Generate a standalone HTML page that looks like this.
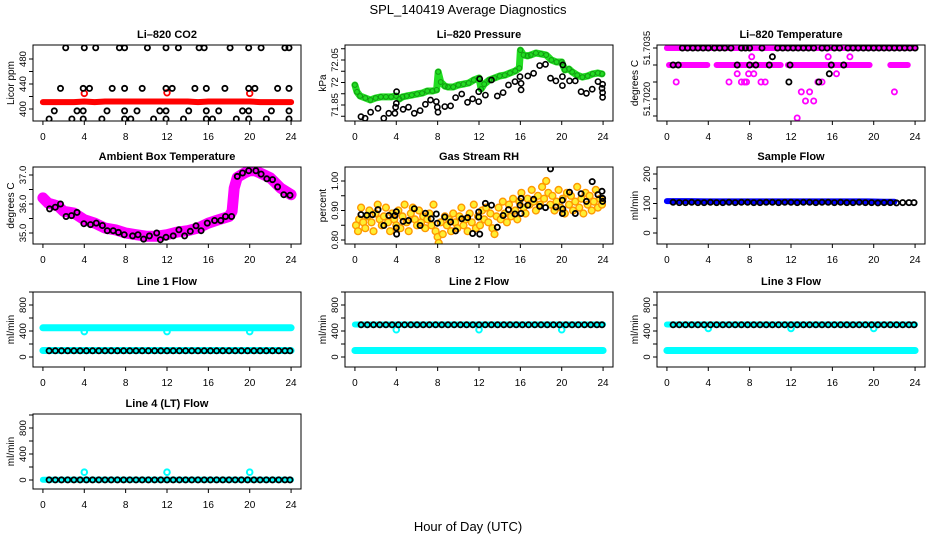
<!DOCTYPE html>
<html><head><meta charset="utf-8"><title>SPL_140419 Average Diagnostics</title>
<style>
html,body{margin:0;padding:0;background:#fff;}
svg{display:block;font-family:"Liberation Sans",Arial,sans-serif;}
</style></head>
<body>
<svg id="chart" width="936" height="540" viewBox="0 0 936 540" xmlns="http://www.w3.org/2000/svg">
<rect x="0" y="0" width="936" height="540" fill="#fff"/>
<text x="468" y="14" text-anchor="middle" font-size="13">SPL_140419  Average Diagnostics</text>
<text x="468" y="531" text-anchor="middle" font-size="13">Hour of Day (UTC)</text>
</svg>
<script>
// ---------- data ----------
const xTicks = [0,4,8,12,16,20,24];

const co2RedH = [0,1,2,3,4,5,6,7,8,9,10,11,12,13,14,15,16,17,18,19,20,21,22,23,24];
const co2RedV = [411,411,411,411,412,411,412,412,412,412,412,412,412,412,412,411,412,412,412,412,412,411,411,411,411];
const co2OutH = [4,12,20];
const co2OutV = [425,426,425];
const co2BlackH = [2.2,4.0,5.1,7.4,7.9,10.1,11.9,13.1,15.1,15.6,18.1,19.9,21.1,23.4,23.8,
  1.7,3.9,4.5,6.7,7.9,9.6,11.9,12.5,14.7,15.8,17.6,19.9,20.5,22.7,23.8,
  1.1,3.3,3.9,6.2,7.9,9.1,11.3,11.9,14.1,15.8,17.0,19.3,19.9,22.1,23.8,
  0.6,2.8,3.9,5.7,7.9,8.5,10.7,11.9,13.6,15.8,16.4,18.7,19.9,21.6,23.8];
const co2BlackV = [498,498,498,498,498,498,498,498,498,498,498,498,498,498,498,
  433,433,433,433,433,433,433,433,433,433,433,433,433,433,433,
  397,397,397,397,397,397,397,397,397,397,397,397,397,397,397,
  384,384,384,384,384,384,384,384,384,384,384,384,384,384,384];

const presGreenH = [0,0.2,0.5,1,1.5,2,2.5,3,3.5,4,4.3,4.6,5,5.5,6,6.5,7,7.5,7.9,8.05,8.3,8.7,9,9.5,10,10.5,11,11.5,12,12.2,12.5,13,13.5,14,14.5,15,15.5,15.9,16.0,16.3,16.7,17,17.5,18,18.5,19,19.5,20,20.3,20.7,21,21.5,22,22.5,23,23.5,23.9];
const presGreenV = [71.939,71.908,71.89,71.881,71.872,71.881,71.886,71.886,71.886,71.89,71.877,71.886,71.89,71.894,71.899,71.903,71.912,71.912,71.917,71.997,71.952,71.934,71.93,71.93,71.939,71.943,71.948,71.961,71.97,71.921,71.943,71.961,71.97,71.979,71.983,71.992,72.001,72.014,72.094,72.072,72.068,72.072,72.081,72.077,72.072,72.05,72.041,72.041,72.006,72.01,71.997,71.983,71.974,71.979,71.988,71.992,71.988];
const presBlackH = [0.59,0.98,1.52,2.23,2.79,3.28,3.87,3.93,4.0,4.03,4.66,5.18,5.74,6.3,6.82,7.31,7.87,7.97,8.03,8.69,9.25,9.74,10.33,10.89,11.38,11.97,11.97,12.07,12.62,13.21,13.77,14.33,14.85,15.48,15.97,16.07,16.07,16.72,17.28,17.87,18.43,18.92,19.44,20.07,20.07,20.1,20.75,21.31,21.87,22.39,22.95,23.51,23.95,23.9,23.95,23.95];
const presBlackV = [71.798,71.791,71.818,71.835,71.791,71.813,71.813,71.84,71.857,71.909,71.831,71.84,71.813,71.825,71.853,71.872,71.865,71.84,71.818,71.843,71.846,71.883,71.899,71.862,71.877,71.865,71.909,71.966,71.894,71.961,71.89,71.905,71.939,71.954,71.976,71.946,71.917,71.979,71.991,72.025,72.031,71.969,71.957,71.976,71.936,72.028,71.957,71.957,71.909,71.902,71.92,71.954,71.942,71.924,71.905,71.884];

const tempMagTopH = [0,2,4,6,8,10,12,14,16,18,20,22,24];
const tempMagTopV = [51.7035,51.7035,51.7035,51.7035,51.7035,51.7035,51.7035,51.7035,51.7035,51.7035,51.7035,51.7035,51.7035];
const tempMagMidH = [0.2,1,2,3,3.9,4.2,4.8,6,7,8,9,10,11,11.3,11.7,13,14,15,16,17,18,19,19.6,20.5,21.6,22.5,23.3];
const tempMagMidV = [51.7030,51.7030,51.7030,51.7030,51.7030,null,51.7030,51.7030,51.7030,51.7030,51.7030,51.7030,51.7030,null,51.7030,51.7030,51.7030,51.7030,51.7030,51.7030,51.7030,51.7030,51.7030,null,51.7030,51.7030,51.7030];
const tempMagPtH = [8.2,15.6,17.7,6.8,7.9,8.4,16.4,0.9,6.0,7.2,7.5,7.7,9.1,9.5,14.6,15.0,13.0,13.8,22.0,13.4,14.2,12.6];
const tempMagPtV = [51.70324,51.70324,51.70324,51.70274,51.70274,51.70274,51.70274,51.7025,51.7025,51.7025,51.7025,51.7025,51.7025,51.7025,51.7025,51.7025,51.70221,51.70221,51.70221,51.70194,51.70194,51.70144];
const tempBlackH = [1.5,2.0,2.5,3.0,3.5,4.0,4.6,5.1,5.6,6.2,7.2,7.6,8.0,9.2,10.7,11.2,11.7,12.2,12.7,13.2,13.7,14.2,15.0,15.5,16.2,16.7,17.5,18.0,18.5,19.0,19.5,20.0,20.5,21.0,21.5,22.0,22.5,23.0,23.5,24.0,
  10.2,0.6,1.1,6.8,8.0,8.6,9.9,11.9,15.9,17.1,15.7,11.8,14.7];
const tempBlackV = [51.7035,51.7035,51.7035,51.7035,51.7035,51.7035,51.7035,51.7035,51.7035,51.7035,51.7035,51.7035,51.7035,51.7035,51.7035,51.7035,51.7035,51.7035,51.7035,51.7035,51.7035,51.7035,51.7035,51.7035,51.7035,51.7035,51.7035,51.7035,51.7035,51.7035,51.7035,51.7035,51.7035,51.7035,51.7035,51.7035,51.7035,51.7035,51.7035,51.7035,
  51.70324,51.7030,51.7030,51.7030,51.7030,51.7030,51.7030,51.7030,51.7030,51.7030,51.70274,51.7025,51.7025];

const ambMagH = [0,0.5,1,1.5,2,3,4,5,6,7,8,9,10,11,12,13,14,15,16,17,18,18.3,18.5,18.8,19.5,20,20.5,21,22,23,24];
const ambMagV = [36.21,36.03,35.98,35.92,35.75,35.69,35.46,35.34,35.17,35.11,35.0,34.94,34.89,34.89,34.94,35.03,35.08,35.17,35.34,35.46,35.57,35.75,36.55,36.92,37.07,37.15,37.15,37.07,36.9,36.55,36.32];
const ambBlackH = [0.65,1.2,1.7,2.24,2.76,3.3,3.96,4.6,5.16,5.75,6.23,6.8,7.3,7.86,8.67,9.2,9.74,10.3,11.0,11.36,11.9,12.6,13.15,13.7,14.25,14.8,15.3,15.9,16.6,17.2,17.66,18.25,18.8,19.3,19.9,20.6,21.1,21.65,22.2,22.7,23.3,23.9];
const ambBlackV = [35.83,35.89,36.0,35.57,35.6,35.71,35.32,35.29,35.34,35.26,35.08,35.08,35.02,34.94,34.9,34.94,34.79,34.9,35.0,34.77,34.85,34.9,35.11,34.9,35.06,35.25,35.08,35.34,35.43,35.43,35.57,35.57,36.95,37.07,37.15,37.15,37.03,36.87,36.84,36.59,36.32,36.3];

const rhOrangeH = [0.1,0.3,0.4,0.6,0.8,1.0,1.2,1.4,1.6,1.8,2.0,2.2,2.4,2.6,2.8,3.0,3.2,3.4,3.6,3.8,4.0,4.2,4.4,4.6,4.8,5.0,5.2,5.4,5.6,5.8,6.0,6.2,6.4,6.6,6.8,7.0,7.2,7.4,7.6,7.8,8.0,8.1,8.3,8.5,8.7,8.9,9.1,9.3,9.5,9.7,9.9,10.1,10.3,10.5,10.7,10.9,11.1,11.3,11.5,11.7,11.9,12.1,12.3,12.5,12.7,12.9,13.1,13.3,13.5,13.7,13.9,14.1,14.3,14.5,14.7,14.9,15.1,15.3,15.5,15.7,15.9,16.1,16.3,16.5,16.7,16.9,17.1,17.3,17.5,17.7,17.9,18.1,18.3,18.5,18.7,18.9,19.1,19.3,19.5,19.7,19.9,20.1,20.3,20.5,20.7,20.9,21.1,21.3,21.5,21.7,21.9,22.1,22.3,22.5,22.7,22.9,23.1,23.3,23.5,23.7,23.9];
const rhOrangeV = [0.85,0.83,0.87,0.91,0.86,0.84,0.88,0.90,0.86,0.83,0.89,0.92,0.87,0.85,0.88,0.91,0.86,0.83,0.89,0.87,0.85,0.90,0.84,0.88,0.92,0.86,0.83,0.89,0.91,0.87,0.85,0.90,0.86,0.88,0.84,0.87,0.89,0.85,0.92,0.83,0.81,0.79,0.86,0.82,0.88,0.85,0.87,0.83,0.89,0.86,0.84,0.88,0.91,0.85,0.87,0.83,0.89,0.86,0.92,0.84,0.88,0.85,0.90,0.87,0.91,0.86,0.89,0.84,0.82,0.88,0.91,0.87,0.93,0.89,0.86,0.92,0.88,0.94,0.90,0.87,0.93,0.96,0.91,0.89,0.94,0.92,0.97,0.93,0.90,0.95,0.92,0.98,0.94,1.00,0.96,0.92,0.95,0.90,0.93,0.97,0.91,0.94,0.89,0.96,0.92,0.95,0.90,0.93,0.98,0.91,0.94,0.89,0.96,0.92,0.95,0.90,0.93,0.97,0.91,0.94,0.92];
const rhBlackH = [0.59,1.15,1.7,2.23,2.79,3.28,3.87,4.0,4.0,4.03,4.66,5.18,5.74,6.3,6.82,7.38,7.87,7.97,8.69,9.25,9.74,10.33,10.9,11.38,11.97,11.97,12.07,12.62,13.21,13.77,14.33,14.85,15.48,15.97,16.07,16.07,16.72,17.28,17.87,18.43,18.92,19.44,20.07,20.07,20.1,20.75,21.31,21.87,22.39,22.95,23.51,23.95,23.9,23.95];
const rhBlackV = [0.886,0.884,0.886,0.903,0.849,0.883,0.883,0.896,0.841,0.82,0.863,0.866,0.906,0.849,0.891,0.872,0.888,0.857,0.878,0.861,0.831,0.872,0.876,0.822,0.895,0.878,0.82,0.924,0.918,0.843,0.883,0.903,0.888,0.918,0.941,0.89,0.918,0.938,0.914,0.91,1.041,0.912,0.935,0.89,0.905,0.962,0.89,0.957,0.931,0.998,0.954,0.931,0.965,0.941];

const flowH = [0.6,1.2,1.8,2.4,3.0,3.6,4.2,4.8,5.4,6.0,6.6,7.2,7.8,8.4,9.0,9.6,10.2,10.8,11.4,12.0,12.6,13.2,13.8,14.4,15.0,15.6,16.2,16.8,17.4,18.0,18.6,19.2,19.8,20.4,21.0,21.6,22.2,22.8,23.4,23.9];
const sampleBlackV = [104,103,103,104,103,103,104,103,103,104,103,104,104,103,103,104,104,103,104,104,103,104,104,103,104,104,103,104,103,103,104,103,103,102,103,103,102,103,103,103];
const sampleBlueH = [0,2,4,6,8,10,12,14,16,18,19.4,21,22];
const sampleBlueV = [108,108,107,107,107,107,107,107,107,107,107,106,106];
const line1CyanHighH = [0,4,8,12,16,20,24];
const line1CyanHighV = [450,450,450,450,450,450,450];
const line1CyanLowH = [0,4,8,12,16,20,24];
const line1CyanLowV = [100,100,100,100,100,100,100];
const line1OutV = [390,390,390];
const line1BlackV = [95,95,95,95,95,95,95,95,95,95,95,95,95,95,95,95,95,95,95,95,95,95,95,95,95,95,95,95,95,95,95,95,95,95,95,95,95,95,95,95];
const line2CyanHighH = [0,4,8,12,16,20,24];
const line2CyanHighV = [500,500,500,500,500,500,500];
const line2CyanLowH = [0,4,8,12,16,20,24];
const line2CyanLowV = [100,100,100,100,100,100,100];
const line2OutV = [420,420,420];
const line2BlackV = [495,495,495,495,495,495,495,495,495,495,495,495,495,495,495,495,495,495,495,495,495,495,495,495,495,495,495,495,495,495,495,495,495,495,495,495,495,495,495,495];
const line3CyanHighV = [500,500,500,500,500,500,500];
const line3CyanLowV = [100,100,100,100,100,100,100];
const line3OutV = [440,440,440];
const line3BlackV = [495,495,495,495,495,495,495,495,495,495,495,495,495,495,495,495,495,495,495,495,495,495,495,495,495,495,495,495,495,495,495,495,495,495,495,495,495,495,495,495];
const line4CyanH = [0,4,8,12,16,20,24];
const line4CyanV = [3,3,3,3,3,3,3];
const line4OutV = [120,120,120];
const line4BlackV = [2,2,2,2,2,2,2,2,2,2,2,2,2,2,2,2,2,2,2,2,2,2,2,2,2,2,2,2,2,2,2,2,2,2,2,2,2,2,2,2];
const outH = [4,12,20];

// ---------- rendering ----------
const NS = 'http://www.w3.org/2000/svg';
const svg = document.getElementById('chart');
function mk(tag, attrs, parent){
  const e = document.createElementNS(NS, tag);
  for (const k in attrs) e.setAttribute(k, attrs[k]);
  (parent || svg).appendChild(e);
  return e;
}
let clipN = 0;
function makePanel(p){
  const W = 268, H = p.h;
  const g = mk('g', {});
  
  
  const sx = h => p.x + (h + 0.96) * W / 25.92;
  const sy = v => p.py0 + (v - p.v0) * (p.py1 - p.py0) / (p.v1 - p.v0);
  const cid = 'clip' + (clipN++);
  const cp = mk('clipPath', {id: cid}, g);
  mk('rect', {x: p.x, y: p.y, width: W, height: H}, cp);
  const title = mk('text', {x: p.x + W/2, y: p.y - 7, 'text-anchor': 'middle', 'font-size': 11, 'font-weight': 'bold'}, g);
  title.textContent = p.title;
  
  
  const plot = mk('g', {'clip-path': 'url(#' + cid + ')'}, g);
  
  
  const box = mk('rect', {x: p.x, y: p.y, width: W, height: H, fill: 'none', stroke: '#000', 'stroke-width': 1}, g);
  
  
  const xb = p.y + H;
  const xa = mk('line', {x1: sx(0), x2: sx(24), y1: xb, y2: xb, stroke: '#000'}, g);
  
  
  xTicks.forEach(t => {
    const tk = mk('line', {x1: sx(t), x2: sx(t), y1: xb, y2: xb + 4, stroke: '#000'}, g);
    
    
    const tl = mk('text', {x: sx(t), y: xb + 19, 'text-anchor': 'middle', 'font-size': 10}, g);
    tl.textContent = t;
    
    
  });
  const ya = mk('line', {x1: p.x, x2: p.x, y1: sy(p.ticks[0]), y2: sy(p.ticks[p.ticks.length-1]), stroke: '#000'}, g);
  
  
  p.ticks.forEach(t => {
    const tk = mk('line', {x1: p.x - 4, x2: p.x, y1: sy(t), y2: sy(t), stroke: '#000'}, g);
    
    
  });
  p.labVals.forEach((t, i) => {
    const lx = p.x - 7, ly = sy(t);
    const tl = mk('text', {x: lx, y: ly, 'text-anchor': 'middle', 'font-size': 9.5, transform: 'rotate(-90 ' + lx + ' ' + ly + ')'}, g);
    tl.textContent = p.labText[i];
    
    
  });
  const ax = p.x - 19, ay = p.y + H/2;
  const yt = mk('text', {x: ax, y: ay, 'text-anchor': 'middle', 'font-size': 10, transform: 'rotate(-90 ' + ax + ' ' + ay + ')'}, g);
  yt.textContent = p.ylab;
  
  
  return {plot, sx, sy};
}
function band(P, hs, vs, color, w, name){
  let pts = [];
  const flush = () => {
    if (pts.length){
      const pl = mk('polyline', {points: pts.join(' '), fill: 'none', stroke: color, 'stroke-width': w, 'stroke-linecap': 'round', 'stroke-linejoin': 'round'}, P.plot);
      
      
    }
    pts = [];
  };
  hs.forEach((h, i) => {
    if (vs[i] === null) { flush(); return; }
    pts.push(P.sx(h).toFixed(1) + ',' + P.sy(vs[i]).toFixed(1));
  });
  flush();
}
function dots(P, hs, vs, color, r, sw, fill, name){
  hs.forEach((h, i) => {
    if (vs[i] === null) return;
    const c = mk('circle', {cx: P.sx(h).toFixed(1), cy: P.sy(vs[i]).toFixed(1), r: r, fill: fill || 'none', stroke: color, 'stroke-width': sw}, P.plot);
    
    
  });
}
const C1 = 33, C2 = 345, C3 = 657;
const R = [45, 167, 292, 414];
const flowTicks = [0,200,400,600,800,1000];

const p1 = makePanel({name:'panel-li820-co2', title:'Li\u2013820 CO2', ylab:'Licor ppm', x:C1, y:R[0], h:76, v0:400, v1:480, py0:109, py1:59, ticks:[400,420,440,460,480], labVals:[400,440,480], labText:['400','440','480']});
band(p1, co2RedH, co2RedV, '#ff0000', 6, 'co2-red-series');
dots(p1, co2OutH, co2OutV, '#ff0000', 2.8, 1.8, null, 'co2-red-outlier');
dots(p1, co2BlackH, co2BlackV, '#000', 2.6, 1.8, null, 'co2-black-point');

const p2 = makePanel({name:'panel-li820-pressure', title:'Li\u2013820 Pressure', ylab:'kPa', x:C2, y:R[0], h:76, v0:71.85, v1:72.05, py0:105, py1:60, ticks:[71.80,71.85,71.90,71.95,72.00,72.05,72.10], labVals:[71.85,71.95,72.05], labText:['71.85','72','72.05']});
band(p2, presGreenH, presGreenV, '#22dd22', 7, 'pressure-green-series');
dots(p2, presGreenH, presGreenV, '#119911', 2.4, 1, null, 'pressure-green-point');
dots(p2, presBlackH, presBlackV, '#000', 2.6, 1.6, null, 'pressure-black-point');

const p3 = makePanel({name:'panel-li820-temperature', title:'Li\u2013820 Temperature', ylab:'degrees C', x:C3, y:R[0], h:76, v0:51.7015, v1:51.7035, py0:116, py1:48, ticks:[51.7015,51.7020,51.7025,51.7030,51.7035], labVals:[51.7020,51.7035], labText:['51.7020','51.7035']});
band(p3, tempMagTopH, tempMagTopV, '#ff00ff', 6, 'temp-magenta-series');
band(p3, tempMagMidH, tempMagMidV, '#ff00ff', 6, 'temp-magenta-series');
dots(p3, tempMagPtH, tempMagPtV, '#ff00ff', 2.6, 1.8, null, 'temp-magenta-point');
dots(p3, tempBlackH, tempBlackV, '#000', 2.6, 1.8, null, 'temp-black-point');

const p4 = makePanel({name:'panel-ambient-box-temperature', title:'Ambient Box Temperature', ylab:'degrees C', x:C1, y:R[1], h:77, v0:35, v1:37, py0:233, py1:175, ticks:[35,35.5,36,36.5,37], labVals:[35,36,37], labText:['35.0','36.0','37.0']});
band(p4, ambMagH, ambMagV, '#ff00ff', 11, 'ambient-magenta-series');
dots(p4, ambBlackH, ambBlackV, '#000', 2.6, 1.8, null, 'ambient-black-point');

const p5 = makePanel({name:'panel-gas-stream-rh', title:'Gas Stream RH', ylab:'percent', x:C2, y:R[1], h:77, v0:0.8, v1:1.0, py0:240, py1:181, ticks:[0.80,0.85,0.90,0.95,1.00], labVals:[0.80,0.90,1.00], labText:['0.80','0.90','1.00']});
dots(p5, rhOrangeH, rhOrangeV, '#ff9900', 3.4, 1.4, '#ffee33', 'rh-orange-point');
dots(p5, rhBlackH, rhBlackV, '#000', 2.6, 1.8, null, 'rh-black-point');

const p6 = makePanel({name:'panel-sample-flow', title:'Sample Flow', ylab:'ml/min', x:C3, y:R[1], h:77, v0:0, v1:200, py0:233, py1:174, ticks:[0,50,100,150,200], labVals:[0,100,200], labText:['0','100','200']});
band(p6, sampleBlueH, sampleBlueV, '#0000ff', 6, 'sample-blue-series');
dots(p6, flowH, sampleBlackV, '#000', 2.6, 1.8, null, 'sample-black-point');

const p7 = makePanel({name:'panel-line1-flow', title:'Line 1 Flow', ylab:'ml/min', x:C1, y:R[2], h:75, v0:0, v1:800, py0:357, py1:305, ticks:flowTicks, labVals:[0,400,800], labText:['0','400','800']});
band(p7, line1CyanHighH, line1CyanHighV, '#00ffff', 7, 'line1-cyan-series');
band(p7, line1CyanLowH, line1CyanLowV, '#00ffff', 7, 'line1-cyan-series');
dots(p7, outH, line1OutV, '#00ffff', 2.8, 2, null, 'line1-cyan-outlier');
dots(p7, flowH, line1BlackV, '#000', 2.6, 1.8, null, 'line1-black-point');

const p8 = makePanel({name:'panel-line2-flow', title:'Line 2 Flow', ylab:'ml/min', x:C2, y:R[2], h:75, v0:0, v1:800, py0:357, py1:305, ticks:flowTicks, labVals:[0,400,800], labText:['0','400','800']});
band(p8, line2CyanHighH, line2CyanHighV, '#00ffff', 6, 'line2-cyan-series');
band(p8, line2CyanLowH, line2CyanLowV, '#00ffff', 7, 'line2-cyan-series');
dots(p8, outH, line2OutV, '#00ffff', 2.8, 2, null, 'line2-cyan-outlier');
dots(p8, flowH, line2BlackV, '#000', 2.6, 1.8, null, 'line2-black-point');

const p9 = makePanel({name:'panel-line3-flow', title:'Line 3 Flow', ylab:'ml/min', x:C3, y:R[2], h:75, v0:0, v1:800, py0:357, py1:305, ticks:flowTicks, labVals:[0,400,800], labText:['0','400','800']});
band(p9, line2CyanHighH, line3CyanHighV, '#00ffff', 6, 'line3-cyan-series');
band(p9, line2CyanLowH, line3CyanLowV, '#00ffff', 7, 'line3-cyan-series');
dots(p9, outH, line3OutV, '#00ffff', 2.8, 2, null, 'line3-cyan-outlier');
dots(p9, flowH, line3BlackV, '#000', 2.6, 1.8, null, 'line3-black-point');

const p10 = makePanel({name:'panel-line4-flow', title:'Line 4 (LT) Flow', ylab:'ml/min', x:C1, y:R[3], h:75, v0:0, v1:800, py0:480, py1:428, ticks:flowTicks, labVals:[0,400,800], labText:['0','400','800']});
band(p10, line4CyanH, line4CyanV, '#00ffff', 6, 'line4-cyan-series');
dots(p10, outH, line4OutV, '#00ffff', 2.8, 2, null, 'line4-cyan-outlier');
dots(p10, flowH, line4BlackV, '#000', 2.6, 1.8, null, 'line4-black-point');
</script>
</body></html>
